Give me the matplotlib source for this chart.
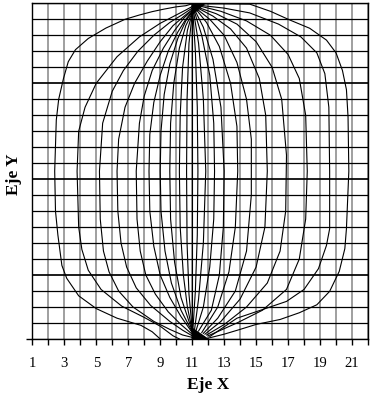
import numpy as np
import matplotlib
matplotlib.use("Agg")
import matplotlib.pyplot as plt

# etiquetas del eje x
x_ticks = list(range(1, 23))
x_labels = [str(v) if v % 2 == 1 else "" for v in x_ticks]

# lineas de campo (de arriba hacia abajo)
lineas_x = [
    [11.0, 10.6, 10.0, 9.2, 8.5, 7.7, 6.8, 5.6, 4.5, 3.7, 3.25, 2.95, 2.65, 2.5, 2.4, 2.45, 2.6, 2.85, 3.15, 3.9, 5.0, 6.3, 7.8, 8.5, 9.0],
    [11.0, 10.6, 10.0, 9.0, 7.7, 6.3, 5.0, 4.3, 3.9, 3.8, 3.9, 4.1, 4.5, 5.3, 6.6, 8.0, 9.0, 9.8, 10.2],
    [11.0, 10.4, 9.6, 8.6, 7.6, 6.7, 6.0, 5.4, 5.2, 5.25, 5.45, 5.8, 6.4, 7.3, 8.6, 9.6, 10.4, 11.0],
    [11.0, 10.5, 9.8, 9.0, 8.2, 7.4, 6.8, 6.4, 6.3, 6.35, 6.55, 6.9, 7.5, 8.4, 9.6, 10.4, 11.0],
    [11.0, 10.5, 9.9, 9.2, 8.5, 8.0, 7.7, 7.5, 7.55, 7.75, 8.1, 8.7, 9.5, 10.3, 11.0],
    [11.0, 10.6, 10.1, 9.5, 9.0, 8.6, 8.35, 8.3, 8.35, 8.6, 9.0, 9.6, 10.3, 11.0],
    [11.0, 10.6, 10.1, 9.6, 9.25, 9.05, 9.0, 9.05, 9.3, 9.7, 10.3, 11.0],
    [11.0, 10.6, 10.2, 9.85, 9.65, 9.6, 9.65, 9.9, 10.3, 11.0],
    [11.0, 10.7, 10.4, 10.25, 10.2, 10.25, 10.45, 10.7, 11.0],
    [11.0, 10.8, 10.68, 10.65, 10.68, 10.8, 11.0],
    [11.0, 11.0],
    [11.05, 11.2, 11.32, 11.36, 11.32, 11.2, 11.05],
    [11.1, 11.4, 11.7, 11.85, 11.7, 11.4, 11.15],
    [11.15, 11.6, 12.1, 12.35, 12.4, 12.35, 12.1, 11.7, 11.25],
    [11.2, 11.7, 12.3, 12.8, 13.0, 12.95, 12.7, 12.2, 11.4],
    [11.3, 11.9, 12.7, 13.4, 13.8, 13.85, 13.7, 13.3, 12.6, 11.6],
    [11.35, 12.1, 13.0, 13.8, 14.4, 14.7, 14.7, 14.4, 13.7, 12.6, 11.7],
    [11.45, 12.3, 13.4, 14.4, 15.2, 15.6, 15.7, 15.55, 15.0, 14.0, 12.8, 11.8],
    [11.5, 12.5, 13.8, 15.0, 16.0, 16.6, 16.9, 16.85, 16.5, 15.7, 14.4, 13.0, 11.9],
    [11.6, 12.8, 14.4, 15.9, 17.0, 17.7, 18.1, 18.2, 18.1, 17.7, 16.9, 15.4, 13.8, 12.0],
    [11.7, 13.0, 14.6, 16.4, 17.8, 18.8, 19.3, 19.55, 19.6, 19.6, 19.4, 18.9, 18.0, 16.9, 15.4, 13.8, 12.1],
    [11.8, 13.0, 14.6, 15.9, 17.1, 18.35, 19.4, 20.0, 20.4, 20.65, 20.75, 20.8, 20.65, 20.55, 20.2, 19.6, 18.8, 17.7, 16.5, 15.0, 14.0, 13.0, 12.0],
]
lineas_y = [
    [20.97, 20.85, 20.78, 20.63, 20.48, 20.27, 20.0, 19.45, 18.8, 18.1, 17.35, 16.3, 15.0, 13.7, 10.5, 8.0, 6.5, 4.6, 3.8, 2.7, 1.9, 1.3, 0.85, 0.45, 0.0],
    [20.8, 20.58, 20.27, 19.75, 18.9, 17.66, 16.0, 14.5, 13.0, 10.5, 7.0, 5.6, 4.3, 3.1, 2.05, 1.35, 0.8, 0.2, 0.0],
    [20.7, 20.3, 19.8, 19.0, 18.0, 16.8, 15.5, 13.5, 10.5, 7.5, 5.5, 4.2, 3.0, 2.0, 1.1, 0.6, 0.25, 0.1],
    [20.6, 20.2, 19.6, 18.6, 17.4, 16.0, 14.5, 12.5, 10.5, 8.0, 6.0, 4.5, 3.2, 2.1, 1.1, 0.55, 0.2],
    [20.55, 20.1, 19.3, 18.2, 16.8, 15.2, 13.5, 10.5, 7.5, 5.5, 4.0, 2.8, 1.7, 0.9, 0.3],
    [20.5, 20.0, 19.2, 18.0, 16.5, 14.8, 12.8, 10.5, 8.0, 5.8, 4.0, 2.6, 1.4, 0.4],
    [20.45, 19.9, 18.8, 17.2, 15.3, 13.0, 10.5, 8.0, 5.5, 3.5, 1.8, 0.45],
    [20.4, 19.6, 18.2, 16.0, 13.5, 10.5, 7.5, 4.8, 2.6, 0.5],
    [20.35, 19.3, 17.0, 14.0, 10.5, 7.0, 4.0, 2.0, 0.55],
    [20.32, 18.5, 15.0, 10.5, 6.0, 2.8, 0.62],
    [21.0, 0.0],
    [20.35, 18.0, 14.5, 10.5, 6.5, 3.0, 0.65],
    [20.4, 18.5, 15.0, 10.5, 6.0, 2.5, 0.6],
    [20.45, 19.0, 16.5, 13.5, 10.5, 7.5, 4.5, 2.0, 0.55],
    [20.5, 19.5, 17.5, 14.5, 10.5, 7.0, 4.0, 1.8, 0.5],
    [20.55, 19.8, 18.3, 16.0, 13.3, 10.5, 7.0, 4.2, 2.0, 0.4],
    [20.6, 20.0, 19.0, 17.3, 15.0, 12.5, 9.0, 5.5, 3.0, 1.3, 0.35],
    [20.65, 20.2, 19.4, 18.2, 16.3, 14.0, 10.5, 7.0, 4.5, 2.5, 1.1, 0.3],
    [20.7, 20.35, 19.7, 18.6, 17.0, 15.0, 11.5, 8.0, 5.5, 3.5, 2.0, 0.9, 0.25],
    [20.8, 20.5, 19.9, 19.0, 17.8, 16.3, 14.0, 10.5, 7.5, 5.0, 3.1, 1.8, 1.0, 0.2],
    [20.85, 20.7, 20.4, 19.7, 18.9, 17.9, 16.6, 14.5, 10.5, 6.9, 5.85, 4.4, 3.1, 2.35, 1.84, 1.3, 0.15],
    [20.97, 20.97, 20.95, 20.5, 19.96, 19.44, 18.7, 17.9, 16.8, 15.6, 13.9, 10.5, 6.9, 5.65, 4.23, 2.98, 2.14, 1.64, 1.22, 0.91, 0.6, 0.3, 0.05],
]

# electrodos (zonas negras arriba y abajo)
electrodo_sup_x = [11.0, 11.8, 11.0]
electrodo_sup_y = [21.0, 21.0, 20.3]
electrodo_inf_x = [11.0, 11.0, 12.0]
electrodo_inf_y = [0.7, 0.0, 0.0]

plt.rcParams['font.family'] = ['Liberation Serif', 'DejaVu Serif']

fig = plt.figure(figsize=(3.74, 3.96), dpi=100)
ax = fig.add_axes([0.0864, 0.144, 0.8976, 0.8476])

for xv in range(1, 23):
    ax.axvline(xv, color="#858585", lw=1.1, zorder=1)
for yv in range(0, 22):
    grueso = 1.25 if yv in (4, 10, 16) else 0.9
    ax.axhline(yv, color="black", lw=grueso, zorder=1)

for xs, ys in zip(lineas_x, lineas_y):
    ax.plot(xs, ys, color="black", lw=0.8, zorder=3)

ax.fill(electrodo_sup_x, electrodo_sup_y, color="black", zorder=4)
ax.fill(electrodo_inf_x, electrodo_inf_y, color="black", zorder=4)

ax.set_xlim(1, 22)
ax.set_ylim(0, 21)
ax.set_xticks(x_ticks)
ax.set_xticklabels(x_labels, fontsize=10.5)
ax.set_yticks([0])
ax.set_yticklabels([""])
ax.tick_params(axis="both", direction="out", length=4, width=1, pad=9)
for s in ax.spines.values():
    s.set_linewidth(1)
    s.set_color("black")

fig.text(208 / 374, 1 - 385 / 396, "Eje X", ha="center", va="center",
         fontsize=12.5, fontweight="bold")
fig.text(14 / 374, 1 - 174 / 396, "Eje Y", ha="center", va="center",
         fontsize=12.5, fontweight="bold", rotation=90)

fig.savefig("out.png", dpi=100)
